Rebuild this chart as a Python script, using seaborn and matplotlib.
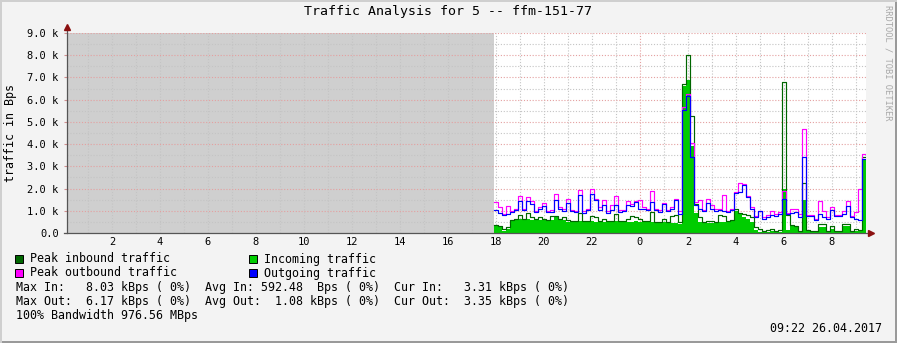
import numpy as np
import pandas as pd
import matplotlib
matplotlib.use("Agg")
import matplotlib.pyplot as plt
from matplotlib.patches import Rectangle
import seaborn as sns

# ---------------- data (Bps, 10-minute steps) ----------------
start_hour = 17 + 55 / 60          # first known sample (hours since 25.04 00:00)
step_hours = 10 / 60
x_start, x_end = 0.125, 33.4167    # graph window

incoming = [300, 250, 100, 200, 550, 600, 650, 600, 650, 600, 600, 600, 600, 550, 600, 750, 600, 600,
            500, 500, 500, 550, 500, 500, 550, 500, 500, 500, 500, 500, 550, 500, 500, 500, 500, 550, 500,
            500, 500, 500, 450, 450, 500, 450, 450, 450, 400, 6600, 6900, 3900, 900, 500, 450, 450, 450, 450,
            500, 500, 500, 550, 1000, 850, 700, 650, 500, 150, 30, 30, 40, 80, 30, 40, 2000, 150, 300,
            250, 40, 1500, 100, 40, 40, 250, 250, 40, 200, 40, 40, 300, 300, 40, 100, 100, 3310]
peak_in = [350, 300, 200, 250, 600, 650, 800, 650, 900, 700, 650, 700, 650, 600, 750, 750, 650, 700,
           600, 550, 550, 900, 550, 550, 750, 700, 550, 650, 550, 550, 850, 550, 550, 650, 750, 700, 650,
           550, 550, 950, 500, 500, 650, 500, 750, 800, 500, 6700, 8030, 5250, 1300, 700, 500, 550, 550, 500,
           800, 750, 550, 600, 1100, 900, 850, 800, 700, 250, 200, 100, 150, 200, 100, 150, 6800, 800, 350,
           300, 100, 2250, 150, 100, 100, 400, 400, 100, 300, 100, 100, 400, 400, 100, 200, 150, 3400]
outgoing = [1050, 900, 800, 850, 950, 1050, 1450, 1050, 1450, 1300, 950, 1100, 1200, 950, 950, 1500, 1100, 1000,
            1350, 1000, 950, 1700, 900, 1050, 1750, 1500, 1050, 1250, 900, 1050, 1250, 950, 1000, 1250, 1200, 1400, 1100,
            1100, 1050, 1400, 1050, 950, 1300, 1000, 1100, 1500, 850, 5550, 6170, 3400, 1250, 1100, 1000, 1350, 1100, 1000,
            1050, 1000, 950, 1050, 1800, 1850, 2150, 1600, 1100, 700, 1000, 650, 700, 800, 750, 850, 1550, 850, 900,
            950, 700, 3400, 750, 750, 600, 850, 700, 650, 1050, 750, 750, 850, 1200, 700, 650, 600, 3350]
peak_out = [1400, 1150, 850, 1200, 1000, 1100, 1650, 1100, 1600, 1450, 1000, 1150, 1350, 1000, 1050, 1750, 1150, 1100,
            1550, 1050, 1000, 1950, 1000, 1100, 2000, 1550, 1150, 1500, 1000, 1250, 1650, 1050, 1050, 1450, 1300, 1450, 1500,
            1150, 1100, 1900, 1100, 1050, 1350, 1050, 1150, 1550, 1000, 5650, 6250, 4050, 1400, 1500, 1050, 1550, 1250, 1100,
            1100, 1700, 1000, 1100, 1850, 2250, 2200, 1650, 1150, 750, 1000, 700, 800, 1000, 850, 950, 1900, 900, 1100,
            1100, 850, 4700, 800, 800, 650, 1450, 1000, 700, 1150, 800, 800, 1000, 1450, 750, 950, 2000, 3550]

y_ticks = [0, 1000, 2000, 3000, 4000, 5000, 6000, 7000, 8000, 9000]
y_labels = ["0.0", "1.0 k", "2.0 k", "3.0 k", "4.0 k", "5.0 k", "6.0 k", "7.0 k", "8.0 k", "9.0 k"]
x_ticks = list(range(2, 34, 2))
x_labels = [str(h % 24) for h in x_ticks]

title = "Traffic Analysis for 5 -- ffm-151-77"
legend_items = [("Peak inbound traffic", "#006600"), ("Incoming traffic", "#00cc00"),
                ("Peak outbound traffic", "#ff00ff"), ("Outgoing traffic", "#0000ff")]
stats = ["Max In:   8.03 kBps ( 0%)  Avg In: 592.48  Bps ( 0%)  Cur In:   3.31 kBps ( 0%)",
         "Max Out:  6.17 kBps ( 0%)  Avg Out:  1.08 kBps ( 0%)  Cur Out:  3.35 kBps ( 0%)",
         "100% Bandwidth 976.56 MBps"]

# ---------------- build frame ----------------
n = len(incoming)
t = start_hour + np.arange(n + 1) * step_hours
df = pd.DataFrame({
    "t": t,
    "incoming": incoming + [incoming[-1]],
    "peak_in": peak_in + [peak_in[-1]],
    "outgoing": outgoing + [outgoing[-1]],
    "peak_out": peak_out + [peak_out[-1]],
})

W, H = 897, 343
plt.rcParams["font.family"] = ["DejaVu Sans Mono"]
fig = plt.figure(figsize=(W / 100, H / 100), dpi=100, facecolor="#f3f3f3")
L, R, T, B = 67, 866, 33, 233
ax = fig.add_axes([L / W, 1 - B / H, (R - L) / W, (B - T) / H])
ax.set_facecolor("white")
ax.set_xlim(x_start, x_end)
ax.set_ylim(0, 9000)

# unknown-data region
ax.axvspan(x_start, start_hour, color="#cfcfcf", zorder=0, lw=0)

# grid
dot = (0, (1, 1.6))
for h in range(1, 34):
    col = "#e4a0a0" if h == 24 else "#c4c4c4"
    ax.axvline(h, color=col, lw=0.8, ls=dot, zorder=1)
for v in np.arange(500, 9001, 500):
    col = "#e4a0a0" if v % 1000 == 0 else "#c4c4c4"
    ax.axhline(v, color=col, lw=0.8, ls=dot, zorder=1)

# data
ax.fill_between(df["t"], df["incoming"], step="post", color="#00cc00", lw=0, zorder=2)
sns.lineplot(data=df, x="t", y="peak_in", ax=ax, color="#006600", lw=0.85,
             drawstyle="steps-post", zorder=3, legend=False)
sns.lineplot(data=df, x="t", y="peak_out", ax=ax, color="#ff00ff", lw=0.85,
             drawstyle="steps-post", zorder=4, legend=False)
sns.lineplot(data=df, x="t", y="outgoing", ax=ax, color="#0000ff", lw=0.85,
             drawstyle="steps-post", zorder=5, legend=False)

# axes styling
for s in ax.spines.values():
    s.set_visible(False)
ax.set_xticks(x_ticks)
ax.set_xticklabels(x_labels, fontsize=7.5)
ax.set_yticks(y_ticks)
ax.set_yticklabels(y_labels, fontsize=7.5)
ax.tick_params(axis="y", length=2, color="#d09090", pad=4)
ax.tick_params(axis="x", length=0, pad=3)
ax.set_xlabel("")
ax.set_ylabel("")

# axis lines + arrows
ax.plot([0, 0], [0, 1.03], transform=ax.transAxes, color="#555555", lw=0.9, clip_on=False, zorder=6)
ax.plot([-0.004, 1.004], [0, 0], transform=ax.transAxes, color="#555555", lw=0.9, clip_on=False, zorder=6)
ax.plot([0], [1.03], marker="^", ms=4.5, color="#8b1010", transform=ax.transAxes, clip_on=False, zorder=7)
ax.plot([1.006], [0], marker=">", ms=4.5, color="#8b1010", transform=ax.transAxes, clip_on=False, zorder=7)

# texts
def fx(x): return x / W
def fy(y): return 1 - y / H

fig.text(fx(448), fy(12), title, ha="center", va="center", fontsize=9.5, color="black")
fig.text(fx(11), fy(133), "traffic in Bps", rotation=90, ha="center", va="center", fontsize=8.4)
fig.text(fx(888), fy(5), "RRDTOOL / TOBI OETIKER", rotation=270, ha="center", va="top",
         fontsize=6.3, color="#a8a8a8")

pos = [(15, 259), (249, 259), (15, 273), (249, 273)]
for (label, col), (lx, ly) in zip(legend_items, pos):
    fig.patches.append(Rectangle((fx(lx), fy(ly + 4)), 8 / W, 8 / H, transform=fig.transFigure,
                                 facecolor=col, edgecolor="black", lw=0.7))
    fig.text(fx(lx + 15), fy(ly), label, ha="left", va="center", fontsize=8.4)
for i, s in enumerate(stats):
    fig.text(fx(16), fy(287 + 14 * i), s, ha="left", va="center", fontsize=8.4)
fig.text(fx(882), fy(329), "09:22 26.04.2017", ha="right", va="center", fontsize=8.4)

# frame border
fig.patches.append(Rectangle((0, 0), 1, 2 / H, transform=fig.transFigure, color="#9a9a9a", lw=0))
fig.patches.append(Rectangle((1 - 2 / W, 0), 2 / W, 1, transform=fig.transFigure, color="#9a9a9a", lw=0))
fig.patches.append(Rectangle((0, 1 - 2 / H), 1, 2 / H, transform=fig.transFigure, color="#cfcfcf", lw=0))
fig.patches.append(Rectangle((0, 0), 2 / W, 1, transform=fig.transFigure, color="#cfcfcf", lw=0))

fig.savefig("out.png", dpi=100, facecolor=fig.get_facecolor())
